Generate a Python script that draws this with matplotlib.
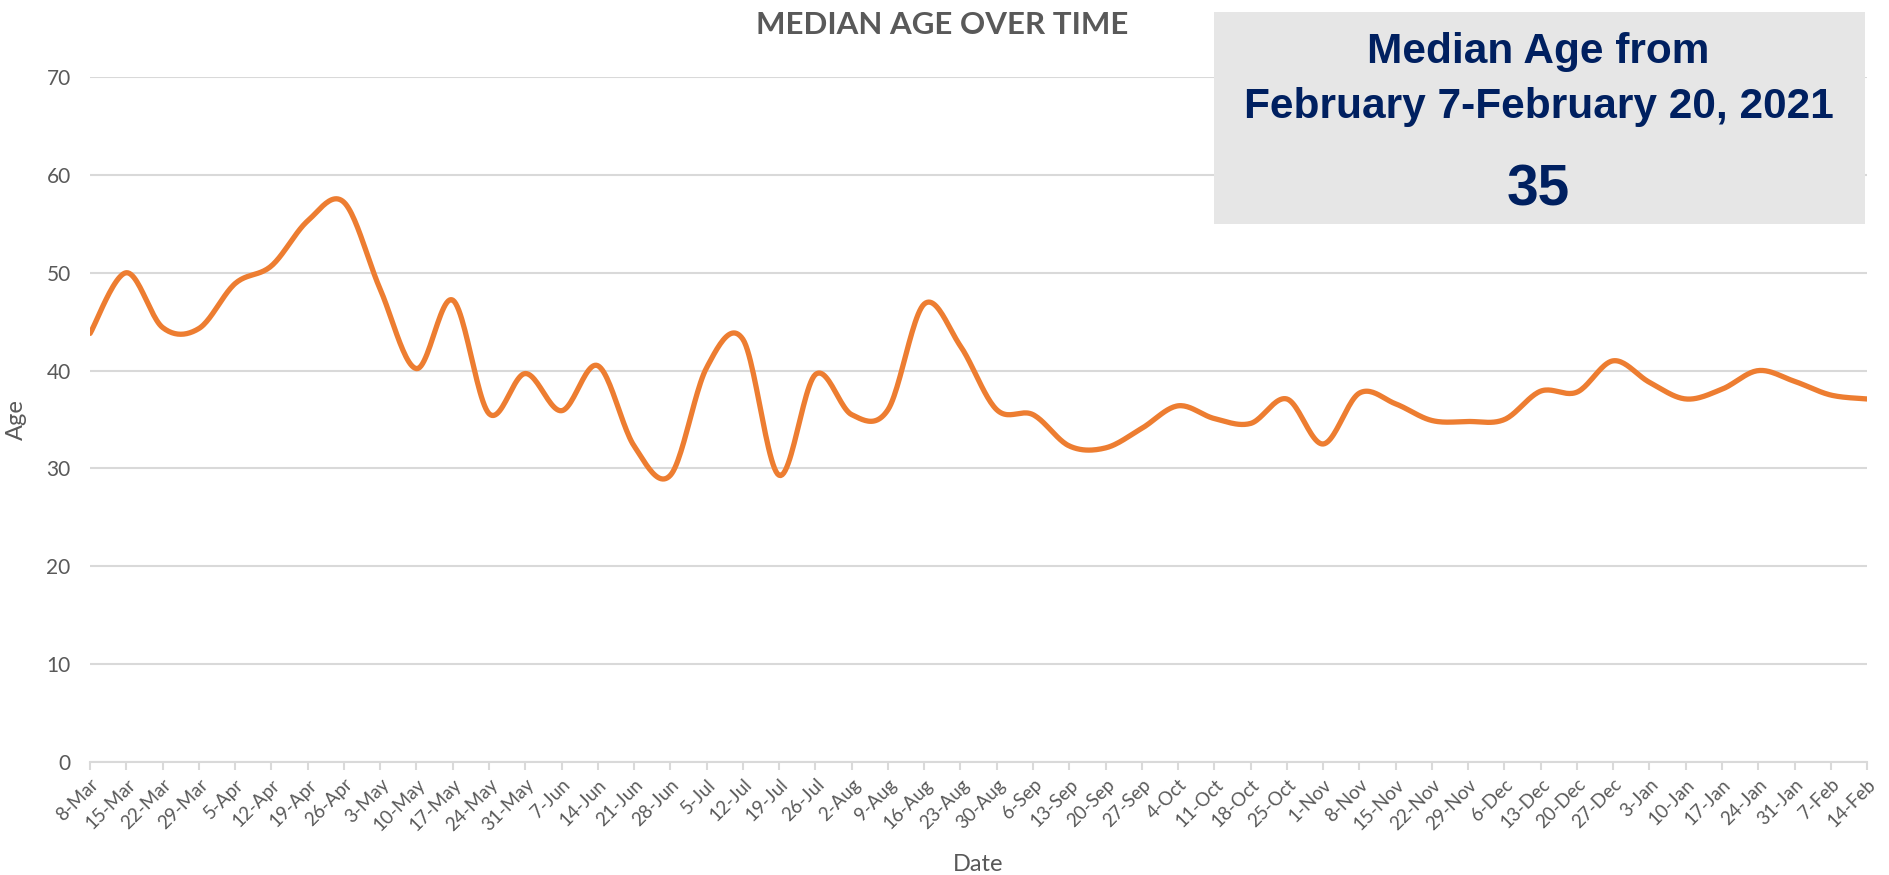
import numpy as np
import matplotlib
matplotlib.use("Agg")
import matplotlib.pyplot as plt
from matplotlib.patches import Rectangle

dates = ["8-Mar", "15-Mar", "22-Mar", "29-Mar", "5-Apr", "12-Apr", "19-Apr", "26-Apr",
         "3-May", "10-May", "17-May", "24-May", "31-May", "7-Jun", "14-Jun", "21-Jun",
         "28-Jun", "5-Jul", "12-Jul", "19-Jul", "26-Jul", "2-Aug", "9-Aug", "16-Aug",
         "23-Aug", "30-Aug", "6-Sep", "13-Sep", "20-Sep", "27-Sep", "4-Oct", "11-Oct",
         "18-Oct", "25-Oct", "1-Nov", "8-Nov", "15-Nov", "22-Nov", "29-Nov", "6-Dec",
         "13-Dec", "20-Dec", "27-Dec", "3-Jan", "10-Jan", "17-Jan", "24-Jan", "31-Jan",
         "7-Feb", "14-Feb"]

median_age = [43.8, 50.0, 44.4, 44.3, 48.9, 50.7, 55.3, 57.2, 48.3, 40.2,
              47.2, 35.6, 39.7, 35.9, 40.5, 32.3, 29.3, 40.3, 43.2, 29.3,
              39.6, 35.5, 36.0, 46.8, 42.5, 36.0, 35.5, 32.3, 32.1, 34.1,
              36.4, 35.1, 34.6, 37.1, 32.5, 37.7, 36.6, 34.9, 34.8, 35.0,
              37.9, 37.8, 41.0, 38.8, 37.1, 38.1, 40.0, 38.9, 37.5, 37.1]

ORANGE = "#ED7D31"
GREY_TXT = "#595959"
GRID = "#D9D9D9"
NAVY = "#002060"


# Excel-style smoothed line (Bezier through each point)
def smooth_line(xs, ys, steps=24):
    p = np.column_stack([xs, ys]).astype(float)
    out = []
    n = len(p)
    for i in range(n - 1):
        p0 = p[i - 1] if i > 0 else p[i]
        p1 = p[i]
        p2 = p[i + 1]
        p3 = p[i + 2] if i + 2 < n else p[i + 1]
        c1 = p1 + (p2 - p0) / 6.0
        c2 = p2 - (p3 - p1) / 6.0
        t = np.linspace(0, 1, steps, endpoint=(i == n - 2))[:, None]
        seg = ((1 - t) ** 3) * p1 + 3 * ((1 - t) ** 2) * t * c1 + 3 * (1 - t) * t ** 2 * c2 + t ** 3 * p2
        out.append(seg)
    out = np.vstack(out)
    return out[:, 0], out[:, 1]


plt.rcParams["font.family"] = ["Lato", "DejaVu Sans"]

fig = plt.figure(figsize=(18.89, 8.75), dpi=100)
ax = fig.add_axes([0.0477, 0.1291, 0.9407, 0.7829])

x = np.arange(len(dates))
sx, sy = smooth_line(x, median_age)
ax.plot(sx, sy, color=ORANGE, lw=3.8, solid_capstyle="round", zorder=3)

ax.set_xlim(0, len(dates) - 1)
ax.set_ylim(0, 70)
ax.set_yticks(np.arange(0, 71, 10))
ax.grid(axis="y", color=GRID, lw=1.5)
ax.set_axisbelow(True)
for s in ["left", "right", "top"]:
    ax.spines[s].set_visible(False)
ax.spines["bottom"].set_color(GRID)
ax.spines["bottom"].set_linewidth(1.5)

ax.set_xticks(x)
ax.set_xticklabels(dates, rotation=45, ha="right", rotation_mode="anchor",
                   fontsize=13.5, color=GREY_TXT)
ax.tick_params(axis="x", length=6, width=1.5, color=GRID, pad=4, direction="out")
ax.tick_params(axis="y", length=0, labelsize=15, labelcolor=GREY_TXT, pad=14)

ax.set_xlabel("Date", fontsize=17, color=GREY_TXT, labelpad=14)
ax.set_ylabel("Age", fontsize=17, color=GREY_TXT, labelpad=14)

fig.text(0.4987, 0.972, "MEDIAN AGE OVER TIME", ha="center", va="center",
         fontsize=22.5, fontweight="bold", color=GREY_TXT)

# summary box
fig.patches.append(Rectangle((0.6427, 0.744), 0.3446, 0.242, transform=fig.transFigure,
                             facecolor="#E6E6E6", edgecolor="none", zorder=5))
box_font = ["Liberation Sans", "DejaVu Sans"]
fig.text(0.8145, 0.941, "Median Age from", ha="center", va="center", fontsize=30.5,
         fontweight="bold", color=NAVY, family=box_font, zorder=6)
fig.text(0.8145, 0.878, "February 7-February 20, 2021", ha="center", va="center",
         fontsize=30.5, fontweight="bold", color=NAVY, family=box_font, zorder=6)
fig.text(0.8145, 0.782, "35", ha="center", va="center", fontsize=41,
         fontweight="bold", color=NAVY, family=box_font, zorder=6)

fig.savefig("out.png", dpi=100)
